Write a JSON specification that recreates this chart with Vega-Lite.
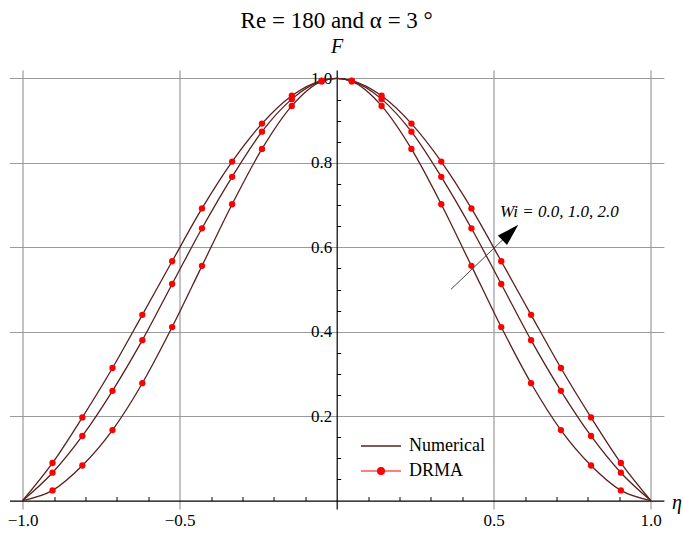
{
  "$schema": "https://vega.github.io/schema/vega-lite/v6.json",
  "width": 654.4,
  "height": 439,
  "autosize": "none",
  "padding": {"left": 9.5, "top": 70, "right": 19.1, "bottom": 24},
  "background": "white",
  "title": {
    "text": "Re = 180 and α = 3 °",
    "font": "Liberation Serif",
    "fontSize": 23,
    "fontWeight": "normal",
    "color": "black",
    "anchor": "middle",
    "offset": 3
  },
  "config": {
    "view": {"stroke": null},
    "axis": {
      "labelFont": "Liberation Serif",
      "titleFont": "Liberation Serif",
      "labelColor": "black",
      "titleColor": "black",
      "domainColor": "black",
      "tickColor": "black",
      "gridColor": "#9a9a9a",
      "gridWidth": 1.2,
      "domainWidth": 1.2
    },
    "legend": {
      "labelFont": "Liberation Serif",
      "labelFontSize": 18,
      "labelColor": "black"
    }
  },
  "datasets": {
    "profile": [
      {"eta": -1.0, "F": 0.0, "Wi": "2.0", "node": false},
      {"eta": -0.905, "F": 0.089, "Wi": "2.0", "node": true},
      {"eta": -0.81, "F": 0.197, "Wi": "2.0", "node": true},
      {"eta": -0.714, "F": 0.314, "Wi": "2.0", "node": true},
      {"eta": -0.619, "F": 0.44, "Wi": "2.0", "node": true},
      {"eta": -0.524, "F": 0.567, "Wi": "2.0", "node": true},
      {"eta": -0.429, "F": 0.692, "Wi": "2.0", "node": true},
      {"eta": -0.333, "F": 0.803, "Wi": "2.0", "node": true},
      {"eta": -0.238, "F": 0.893, "Wi": "2.0", "node": true},
      {"eta": -0.143, "F": 0.959, "Wi": "2.0", "node": true},
      {"eta": -0.048, "F": 0.995, "Wi": "2.0", "node": true},
      {"eta": 0.0, "F": 1.0, "Wi": "2.0", "node": false},
      {"eta": 0.048, "F": 0.995, "Wi": "2.0", "node": true},
      {"eta": 0.143, "F": 0.959, "Wi": "2.0", "node": true},
      {"eta": 0.238, "F": 0.893, "Wi": "2.0", "node": true},
      {"eta": 0.333, "F": 0.803, "Wi": "2.0", "node": true},
      {"eta": 0.429, "F": 0.692, "Wi": "2.0", "node": true},
      {"eta": 0.524, "F": 0.567, "Wi": "2.0", "node": true},
      {"eta": 0.619, "F": 0.44, "Wi": "2.0", "node": true},
      {"eta": 0.714, "F": 0.314, "Wi": "2.0", "node": true},
      {"eta": 0.81, "F": 0.197, "Wi": "2.0", "node": true},
      {"eta": 0.905, "F": 0.089, "Wi": "2.0", "node": true},
      {"eta": 1.0, "F": 0.0, "Wi": "2.0", "node": false},

      {"eta": -1.0, "F": 0.0, "Wi": "1.0", "node": false},
      {"eta": -0.905, "F": 0.066, "Wi": "1.0", "node": true},
      {"eta": -0.81, "F": 0.153, "Wi": "1.0", "node": true},
      {"eta": -0.714, "F": 0.26, "Wi": "1.0", "node": true},
      {"eta": -0.619, "F": 0.38, "Wi": "1.0", "node": true},
      {"eta": -0.524, "F": 0.513, "Wi": "1.0", "node": true},
      {"eta": -0.429, "F": 0.645, "Wi": "1.0", "node": true},
      {"eta": -0.333, "F": 0.767, "Wi": "1.0", "node": true},
      {"eta": -0.238, "F": 0.874, "Wi": "1.0", "node": true},
      {"eta": -0.143, "F": 0.951, "Wi": "1.0", "node": true},
      {"eta": -0.048, "F": 0.994, "Wi": "1.0", "node": true},
      {"eta": 0.0, "F": 1.0, "Wi": "1.0", "node": false},
      {"eta": 0.048, "F": 0.994, "Wi": "1.0", "node": true},
      {"eta": 0.143, "F": 0.951, "Wi": "1.0", "node": true},
      {"eta": 0.238, "F": 0.874, "Wi": "1.0", "node": true},
      {"eta": 0.333, "F": 0.767, "Wi": "1.0", "node": true},
      {"eta": 0.429, "F": 0.645, "Wi": "1.0", "node": true},
      {"eta": 0.524, "F": 0.513, "Wi": "1.0", "node": true},
      {"eta": 0.619, "F": 0.38, "Wi": "1.0", "node": true},
      {"eta": 0.714, "F": 0.26, "Wi": "1.0", "node": true},
      {"eta": 0.81, "F": 0.153, "Wi": "1.0", "node": true},
      {"eta": 0.905, "F": 0.066, "Wi": "1.0", "node": true},
      {"eta": 1.0, "F": 0.0, "Wi": "1.0", "node": false},

      {"eta": -1.0, "F": 0.0, "Wi": "0.0", "node": false},
      {"eta": -0.905, "F": 0.024, "Wi": "0.0", "node": true},
      {"eta": -0.81, "F": 0.083, "Wi": "0.0", "node": true},
      {"eta": -0.714, "F": 0.167, "Wi": "0.0", "node": true},
      {"eta": -0.619, "F": 0.278, "Wi": "0.0", "node": true},
      {"eta": -0.524, "F": 0.411, "Wi": "0.0", "node": true},
      {"eta": -0.429, "F": 0.556, "Wi": "0.0", "node": true},
      {"eta": -0.333, "F": 0.702, "Wi": "0.0", "node": true},
      {"eta": -0.238, "F": 0.833, "Wi": "0.0", "node": true},
      {"eta": -0.143, "F": 0.935, "Wi": "0.0", "node": true},
      {"eta": -0.048, "F": 0.993, "Wi": "0.0", "node": true},
      {"eta": 0.0, "F": 1.0, "Wi": "0.0", "node": false},
      {"eta": 0.048, "F": 0.993, "Wi": "0.0", "node": true},
      {"eta": 0.143, "F": 0.935, "Wi": "0.0", "node": true},
      {"eta": 0.238, "F": 0.833, "Wi": "0.0", "node": true},
      {"eta": 0.333, "F": 0.702, "Wi": "0.0", "node": true},
      {"eta": 0.429, "F": 0.556, "Wi": "0.0", "node": true},
      {"eta": 0.524, "F": 0.411, "Wi": "0.0", "node": true},
      {"eta": 0.619, "F": 0.278, "Wi": "0.0", "node": true},
      {"eta": 0.714, "F": 0.167, "Wi": "0.0", "node": true},
      {"eta": 0.81, "F": 0.083, "Wi": "0.0", "node": true},
      {"eta": 0.905, "F": 0.024, "Wi": "0.0", "node": true},
      {"eta": 1.0, "F": 0.0, "Wi": "0.0", "node": false}
    ],
    "arrow": [
      {"eta": 0.364, "F": 0.5005, "eta2": 0.553, "F2": 0.635}
    ],
    "head": [
      {"eta": 0.553, "F": 0.635}
    ],
    "note": [
      {"eta": 0.52, "F": 0.672, "label": "Wi = 0.0, 1.0, 2.0"}
    ]
  },
  "resolve": {"axis": {"x": "independent", "y": "independent"}},
  "layer": [
    {
      "data": {"name": "profile"},
      "mark": {"type": "line", "interpolate": "monotone", "strokeWidth": 1.3},
      "encoding": {
        "x": {
          "field": "eta", "type": "quantitative",
          "scale": {"domain": [-1.042, 1.042], "nice": false, "zero": false},
          "axis": {
            "orient": "bottom",
            "offset": -8.44,
            "values": [-1, -0.5, 0.5, 1],
            "format": ".1f",
            "labelFontSize": 17,
            "labelPadding": 12,
            "labelFlush": false,
            "ticks": false,
            "grid": true,
            "domain": true,
            "title": "η",
            "titleFontSize": 20,
            "titleFontStyle": "italic",
            "titleFontWeight": "normal",
            "titleAlign": "left",
            "titleBaseline": "alphabetic",
            "titleX": 662,
            "titleY": 7.5,
            "titleAngle": 0
          }
        },
        "y": {
          "field": "F", "type": "quantitative",
          "scale": {"domain": [-0.02, 1.02], "nice": false, "zero": false},
          "axis": {
            "orient": "left",
            "offset": -327.2,
            "values": [0.2, 0.4, 0.6, 0.8, 1.0],
            "format": ".1f",
            "labelFontSize": 17,
            "labelPadding": 5,
            "labelBaseline": "middle",
            "ticks": false,
            "grid": true,
            "domain": true,
            "title": "F",
            "titleFontSize": 20,
            "titleFontStyle": "italic",
            "titleFontWeight": "normal",
            "titleAngle": 0,
            "titleAlign": "center",
            "titleBaseline": "alphabetic",
            "titleX": 0,
            "titleY": -18
          }
        },
        "detail": {"field": "Wi"},
        "stroke": {
          "datum": "Numerical",
          "scale": {"range": ["#5b1f1f"]},
          "legend": {
            "title": null,
            "orient": "none",
            "legendX": 350.5,
            "legendY": 355,
            "symbolType": "stroke",
            "symbolSize": 1600,
            "symbolStrokeWidth": 1.4,
            "labelOffset": 7
          }
        }
      }
    },
    {
      "data": {"name": "profile"},
      "transform": [{"filter": "datum.node"}],
      "mark": {"type": "point", "filled": true, "size": 40, "opacity": 1},
      "encoding": {
        "x": {
          "field": "eta", "type": "quantitative",
          "axis": {
            "orient": "bottom",
            "offset": -8.44,
            "values": [-0.9, -0.8, -0.7, -0.6, -0.4, -0.3, -0.2, -0.1, 0.1, 0.2, 0.3, 0.4, 0.6, 0.7, 0.8, 0.9],
            "labels": false,
            "grid": false,
            "domain": false,
            "ticks": true,
            "tickSize": -4,
            "tickWidth": 1,
            "title": null
          }
        },
        "y": {
          "field": "F", "type": "quantitative",
          "axis": {
            "orient": "left",
            "offset": -327.2,
            "values": [0.05, 0.1, 0.15, 0.25, 0.3, 0.35, 0.45, 0.5, 0.55, 0.65, 0.7, 0.75, 0.85, 0.9, 0.95],
            "labels": false,
            "grid": false,
            "domain": false,
            "ticks": true,
            "tickSize": -4,
            "tickWidth": 1,
            "title": null
          }
        },
        "detail": {"field": "Wi"},
        "fill": {
          "datum": "DRMA",
          "scale": {"range": ["#ff0000"]},
          "legend": {
            "title": null,
            "orient": "none",
            "legendX": 350.5,
            "legendY": 380,
            "symbolType": "M-1,0H1M-0.17,0A0.17,0.17 0 1,0 0.17,0A0.17,0.17 0 1,0 -0.17,0Z",
            "symbolSize": 1600,
            "symbolStrokeColor": "#ff0000",
            "symbolFillColor": "#ff0000",
            "symbolStrokeWidth": 1.2,
            "labelOffset": 7
          }
        }
      }
    },
    {
      "data": {"name": "arrow"},
      "mark": {"type": "rule", "color": "#444444", "strokeWidth": 1},
      "encoding": {
        "x": {"field": "eta", "type": "quantitative", "axis": null},
        "y": {"field": "F", "type": "quantitative", "axis": null},
        "x2": {"field": "eta2"},
        "y2": {"field": "F2"}
      }
    },
    {
      "data": {"name": "head"},
      "mark": {"type": "point", "shape": "M0,-1L0.6,1L-0.6,1Z", "filled": true, "color": "black", "size": 484, "angle": 46, "opacity": 1},
      "encoding": {
        "x": {"field": "eta", "type": "quantitative", "axis": null},
        "y": {"field": "F", "type": "quantitative", "axis": null}
      }
    },
    {
      "data": {"name": "note"},
      "mark": {"type": "text", "align": "left", "baseline": "alphabetic", "font": "Liberation Serif", "fontSize": 17, "fontStyle": "italic", "color": "black"},
      "encoding": {
        "x": {"field": "eta", "type": "quantitative", "axis": null},
        "y": {"field": "F", "type": "quantitative", "axis": null},
        "text": {"field": "label"}
      }
    }
  ]
}
